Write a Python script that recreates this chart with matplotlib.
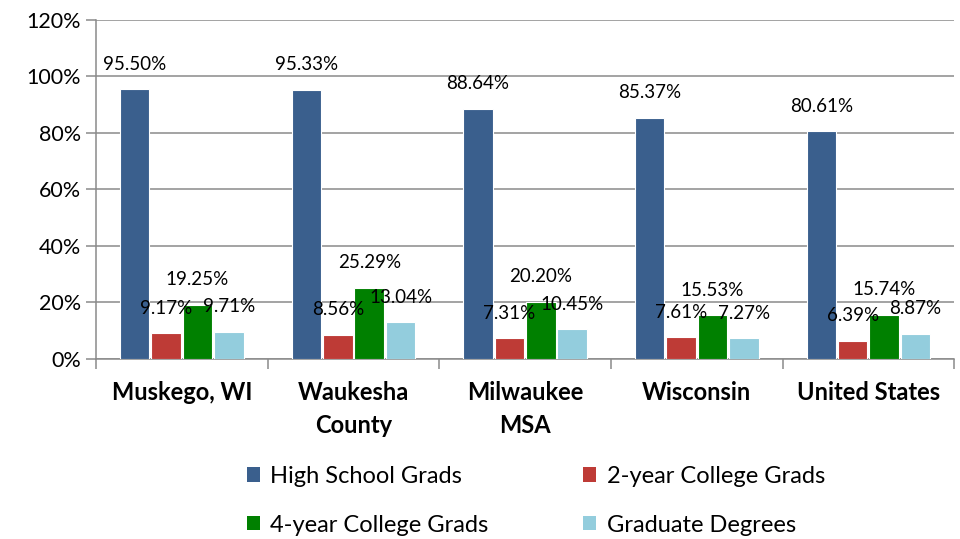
import matplotlib
matplotlib.use('Agg')
import matplotlib.pyplot as plt
import matplotlib.patheffects as pe
from matplotlib.patches import Patch
from matplotlib.ticker import FixedLocator, PercentFormatter
import numpy as np

plt.rcParams['font.family'] = ['Lato', 'DejaVu Sans']

categories = ['Muskego, WI', 'Waukesha\nCounty', 'Milwaukee\nMSA', 'Wisconsin', 'United States']
series_names = ['High School Grads', '2-year College Grads', '4-year College Grads', 'Graduate Degrees']
high_school = [95.50, 95.33, 88.64, 85.37, 80.61]
two_year = [9.17, 8.56, 7.31, 7.61, 6.39]
four_year = [19.25, 25.29, 20.20, 15.53, 15.74]
graduate = [9.71, 13.04, 10.45, 7.27, 8.87]
colors = ['#3A5F8D', '#BE3B36', '#008000', '#93CDDD']

fig = plt.figure(figsize=(9.6, 5.39), dpi=100)
ax = fig.add_axes([0.1, 0.334, 0.894, 0.629])

x = np.arange(len(categories))
width = 0.172
step = 0.183
shadow = [pe.SimplePatchShadow(offset=(0.5, -3), shadow_rgbFace='#777777', alpha=0.3), pe.Normal()]

for i, (vals, col) in enumerate(zip([high_school, two_year, four_year, graduate], colors)):
    pos = x + (i - 1.5) * step
    bars = ax.bar(pos, vals, width, color=col, edgecolor='white', linewidth=0.8, zorder=3)
    for b in bars:
        b.set_path_effects(shadow)
    for xp, v in zip(pos, vals):
        ax.annotate(f'{v:.2f}%', (xp, v), xytext=(0, 25), textcoords='offset pixels',
                    ha='center', va='center', fontsize=13.5, color='black', zorder=5)

ax.set_ylim(0, 120)
ax.set_xlim(-0.5, len(categories) - 0.5)
ax.yaxis.set_major_locator(FixedLocator(np.arange(0, 121, 20)))
ax.yaxis.set_major_formatter(PercentFormatter(decimals=0))
ax.grid(axis='y', color='#8A8A8A', linewidth=1.1, zorder=0)
ax.set_axisbelow(True)

ax.set_xticks(x)
ax.set_xticklabels(categories, fontsize=17, fontweight='bold', linespacing=1.5)
ax.tick_params(axis='x', which='major', length=0, pad=16)
ax.xaxis.set_minor_locator(FixedLocator(np.arange(-0.5, len(categories), 1)))
ax.tick_params(axis='x', which='minor', length=7, color='#8A8A8A', width=1.1)
ax.tick_params(axis='y', length=7, color='#8A8A8A', width=1.1, labelsize=15.5, pad=4)

for s in ['top', 'right']:
    ax.spines[s].set_visible(False)
for s in ['left', 'bottom']:
    ax.spines[s].set_color('#8A8A8A')
    ax.spines[s].set_linewidth(1.1)

# legend order: row 1 = HS, 2-year; row 2 = 4-year, Graduate
order = [0, 2, 1, 3]
leg_handles = [Patch(facecolor=colors[k], edgecolor='none') for k in order]
fig.legend(leg_handles, [series_names[k] for k in order],
           ncol=2, loc='center', bbox_to_anchor=(0.558, 0.071), frameon=False,
           fontsize=17, handlelength=0.55, handleheight=0.55, handletextpad=0.45,
           columnspacing=4.0, labelspacing=1.18)

fig.savefig('out.png', dpi=100)
